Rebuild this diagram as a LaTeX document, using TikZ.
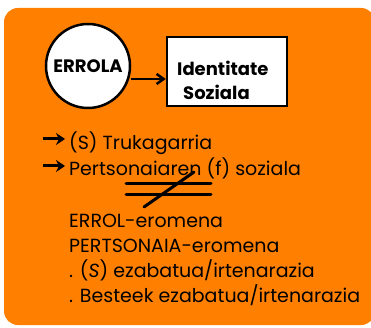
\documentclass[tikz,border=0pt]{standalone}
\usepackage{fontspec}
\setmainfont{Poppins}
\usetikzlibrary{arrows.meta}
\definecolor{bgorange}{HTML}{FF8000}
\tikzset{
  txt/.style={anchor=base west, inner sep=0pt, font=\fontsize{19}{21}\selectfont},
  btxt/.style={anchor=base west, inner sep=0pt, font=\bfseries\fontsize{18}{20}\selectfont},
  heavy/.style={line width=3pt},
  bularrow/.style={line width=3pt, -{Stealth[length=9pt,width=12pt,inset=3pt]}},
}
\begin{document}
\begin{tikzpicture}[x=1pt,y=-1pt]
\useasboundingbox (0,0) rectangle (371,328);
\fill[bgorange, rounded corners=14pt] (4,8) rectangle (375,325);
\node[circle, draw, fill=white, line width=2.5pt, minimum size=84pt, inner sep=0pt,
      font=\bfseries\fontsize{18}{20}\selectfont] (errola) at (88,66) {ERROLA};
\node[draw, fill=white, line width=2.5pt, minimum width=120pt, minimum height=69pt,
      inner sep=0pt] (idsoz) at (227,71.5) {};
\node[btxt] (l1) at (177,76) {Identitate};
\node[btxt] (l2) at (183,100) {Soziala};
\coordinate (astart) at (131,79);
\draw[line width=2.5pt, -{Straight Barb[length=7pt,width=10pt]}] (astart) -- (idsoz.west |- astart);
\coordinate (b1s) at (43,139);
\coordinate (b1e) at (65,139);
\coordinate (b2s) at (43,166);
\coordinate (b2e) at (65,166);
\draw[bularrow] (b1s) -- (b1e);
\draw[bularrow] (b2s) -- (b2e);
\node[txt] (t1) at (69,150) {(S) Trukagarria};
\node[txt] (t2) at (69,176) {Pertsonaiaren (f) soziala};
\draw[heavy, line cap=round] (126,184) -- (211,184);
\draw[heavy, line cap=round] (126,195) -- (211,195);
\draw[heavy, line cap=round] (144,207) -- (194,172);
\node[txt] (t3) at (69,227) {ERROL-eromena};
\node[txt] (t4) at (69,252) {PERTSONAIA-eromena};
\node[txt] (t5) at (69,277) {. (\textit{S}) ezabatua/irtenarazia};
\node[txt] (t6) at (69,302) {. Besteek ezabatua/irtenarazia};
\end{tikzpicture}
\end{document}
